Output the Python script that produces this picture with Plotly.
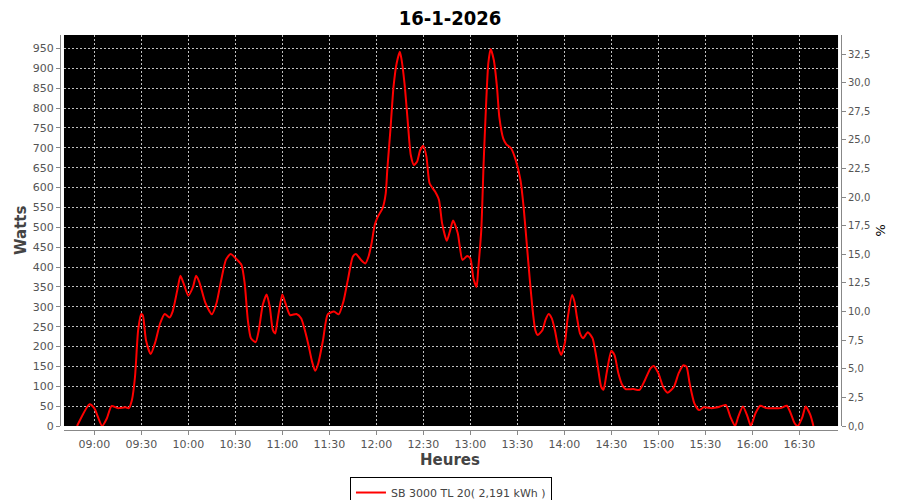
import plotly.graph_objects as go
import pandas as pd

day = "2026-01-16"

# time of reading (HH:MM:SS) and power in watts
heures = [
    "08:49:00", "08:57:00", "09:00:00", "09:05:00", "09:08:00", "09:11:00", "09:15:00", "09:20:00",
    "09:22:00", "09:24:00", "09:26:00", "09:28:00", "09:30:00", "09:31:00", "09:33:00", "09:36:00",
    "09:39:00", "09:42:00", "09:45:00", "09:48:00", "09:50:00", "09:53:00", "09:55:00", "09:57:00",
    "10:00:00", "10:03:00", "10:05:00", "10:07:00", "10:11:00", "10:15:00", "10:18:00", "10:21:00",
    "10:24:00", "10:27:00", "10:31:00", "10:34:00", "10:36:00", "10:38:00", "10:40:00", "10:43:00",
    "10:45:00", "10:47:30", "10:50:00", "10:52:00", "10:54:00", "10:55:30", "10:57:00", "11:00:00",
    "11:02:00", "11:05:00", "11:09:00", "11:12:00", "11:16:00", "11:19:00", "11:21:00", "11:23:00",
    "11:26:00", "11:29:00", "11:33:00", "11:36:00", "11:39:00", "11:42:00", "11:45:00", "11:47:00",
    "11:50:00", "11:53:00", "11:55:00", "11:57:00", "11:59:00", "12:01:00", "12:04:00", "12:06:00",
    "12:07:00", "12:09:00", "12:11:00", "12:13:00", "12:15:00", "12:16:00", "12:18:00", "12:20:00",
    "12:22:00", "12:24:00", "12:26:00", "12:28:00", "12:30:00", "12:32:00", "12:34:00", "12:37:30",
    "12:40:00", "12:42:00", "12:45:00", "12:47:00", "12:49:00", "12:52:00", "12:55:00", "12:58:00",
    "13:00:00", "13:02:00", "13:04:00", "13:05:00", "13:07:00", "13:08:30", "13:10:00", "13:11:30",
    "13:13:00", "13:15:00", "13:17:00", "13:18:30", "13:21:00", "13:23:00", "13:26:00", "13:29:00",
    "13:32:00", "13:34:00", "13:36:00", "13:38:00", "13:40:00", "13:41:30", "13:43:00", "13:46:00",
    "13:48:00", "13:50:00", "13:52:00", "13:54:00", "13:56:00", "13:58:00", "14:00:30", "14:02:00",
    "14:05:00", "14:06:30", "14:08:00", "14:10:00", "14:12:00", "14:15:00", "14:18:00", "14:20:00",
    "14:22:00", "14:23:30", "14:25:00", "14:27:00", "14:30:00", "14:32:00", "14:34:30", "14:37:00",
    "14:39:00", "14:44:00", "14:48:00", "14:51:30", "14:55:00", "14:57:00", "15:00:00", "15:03:00",
    "15:06:00", "15:10:00", "15:13:00", "15:16:00", "15:18:00", "15:20:00", "15:23:00", "15:26:00",
    "15:29:00", "15:34:00", "15:38:00", "15:43:00", "15:46:00", "15:49:00", "15:51:00", "15:54:00",
    "15:57:00", "15:59:00", "16:02:00", "16:05:00", "16:09:00", "16:13:00", "16:18:00", "16:22:00",
    "16:24:30", "16:27:00", "16:29:00", "16:32:00", "16:34:00", "16:37:00", "16:39:00",
]
watts = [
    0, 55, 45, 0, 19, 50, 45, 47,
    45, 65, 124, 241, 282, 279, 216, 181,
    212, 258, 282, 273, 288, 342, 378, 359,
    328, 350, 378, 363, 309, 281, 309, 367,
    418, 433, 419, 405, 359, 267, 221, 211,
    241, 304, 331, 300, 241, 233, 267, 331,
    309, 279, 282, 271, 216, 162, 139, 158,
    216, 281, 288, 281, 313, 371, 426, 433,
    419, 409, 426, 460, 506, 527, 548, 585,
    644, 745, 854, 913, 942, 925, 862, 770,
    682, 657, 665, 694, 705, 678, 611, 590,
    569, 510, 466, 490, 517, 485, 418, 428,
    422, 371, 350, 392, 493, 661, 803, 913,
    949, 921, 854, 778, 724, 709, 699, 669,
    619, 552, 460, 367, 284, 241, 229, 241,
    267, 282, 271, 241, 200, 179, 212, 267,
    330, 313, 275, 233, 221, 236, 221, 183,
    133, 99, 91, 133, 189, 179, 133, 103,
    93, 93, 91, 116, 145, 151, 133, 99,
    84, 99, 133, 153, 149, 107, 57, 40,
    47, 45, 47, 53, 23, 0, 23, 49,
    23, 0, 32, 51, 45, 45, 45, 51,
    32, 7, 0, 23, 49, 28, 0,
]

# right axis: percent of nominal power
nominal_w = 2880
pct_ticks = [i * 2.5 for i in range(14)]
pct_labels = [f"{v:.1f}".replace(".", ",") for v in pct_ticks]
legend_name = "SB 3000 TL 20( 2,191 kWh )"

x = pd.to_datetime([f"{day} {h}" for h in heures])
pct = [w * 100 / nominal_w for w in watts]

fig = go.Figure()
fig.add_trace(go.Scatter(
    x=x, y=watts, mode="lines", name=legend_name,
    line=dict(color="#ff0000", width=2, shape="spline", smoothing=0.6),
))
# same series in %, invisible, only so the right axis is drawn
fig.add_trace(go.Scatter(
    x=x, y=pct, yaxis="y2", mode="lines", opacity=0, showlegend=False,
    hoverinfo="skip", line=dict(width=0),
))

grid = dict(showgrid=True, gridcolor="#c0c0c0", griddash="2px,2px", gridwidth=1)
tickfont = dict(family="DejaVu Sans", size=11, color="#555555")
axis_line = dict(ticks="outside", ticklen=4, tickcolor="#888888",
                 showline=True, linecolor="#888888", linewidth=1, zeroline=False, automargin=False)
title_font = dict(family="DejaVu Sans", size=15, color="#444444")

# the page is drawn 8px in from the window corner, so the figure is 8px smaller
fig.update_layout(
    width=892, height=492,
    paper_bgcolor="white", plot_bgcolor="black",
    margin=dict(l=52, r=59, t=27, b=70),
    title=dict(text="<b>16-1-2026</b>", xref="container", x=0.4955, xanchor="center",
               yref="container", y=0.979, yanchor="middle",
               font=dict(family="DejaVu Sans Condensed", size=20, color="black")),
    xaxis=dict(
        domain=[0.0051, 0.9962], anchor="free", position=0,
        range=[f"{day} 08:40:40", f"{day} 16:54:42"],
        dtick=30 * 60 * 1000, tick0=f"{day} 09:00", tickformat="%H:%M",
        tickfont=tickfont,
        **axis_line, **grid,
    ),
    yaxis=dict(
        domain=[0.0101, 1], anchor="free", position=0,
        range=[0, 984], dtick=50, tick0=0,
        tickfont=tickfont,
        **axis_line, **grid,
    ),
    yaxis2=dict(
        overlaying="y", side="right", anchor="free", position=1,
        range=[0, 984 * 100 / nominal_w],
        tickvals=pct_ticks, ticktext=pct_labels,
        showgrid=False,
        tickfont=dict(family="DejaVu Sans", size=10, color="#555555"),
        **axis_line,
    ),
    annotations=[
        dict(text="<b>Watts</b>", xref="paper", yref="paper", x=-0.0499, y=0.504,
             xanchor="center", yanchor="middle",
             textangle=-90, showarrow=False, font=title_font),
        dict(text="<b>Heures</b>", xref="paper", yref="paper", x=0.4994, y=-0.076,
             xanchor="center", yanchor="middle",
             showarrow=False, font=title_font),
        dict(text="%", xref="paper", yref="paper", x=1.0512, y=0.506,
             xanchor="center", yanchor="middle",
             textangle=90, showarrow=False, font=dict(family="DejaVu Sans", size=13, color="black")),
    ],
    showlegend=True,
    legend=dict(
        orientation="h", xref="container", x=0.4966, xanchor="center",
        yref="container", y=0.0467, yanchor="top",
        bordercolor="black", borderwidth=1, bgcolor="white",
        font=dict(family="DejaVu Sans", size=11, color="#444444"),
        itemwidth=30, tracegroupgap=0,
    ),
)

fig.write_html("out.html")
